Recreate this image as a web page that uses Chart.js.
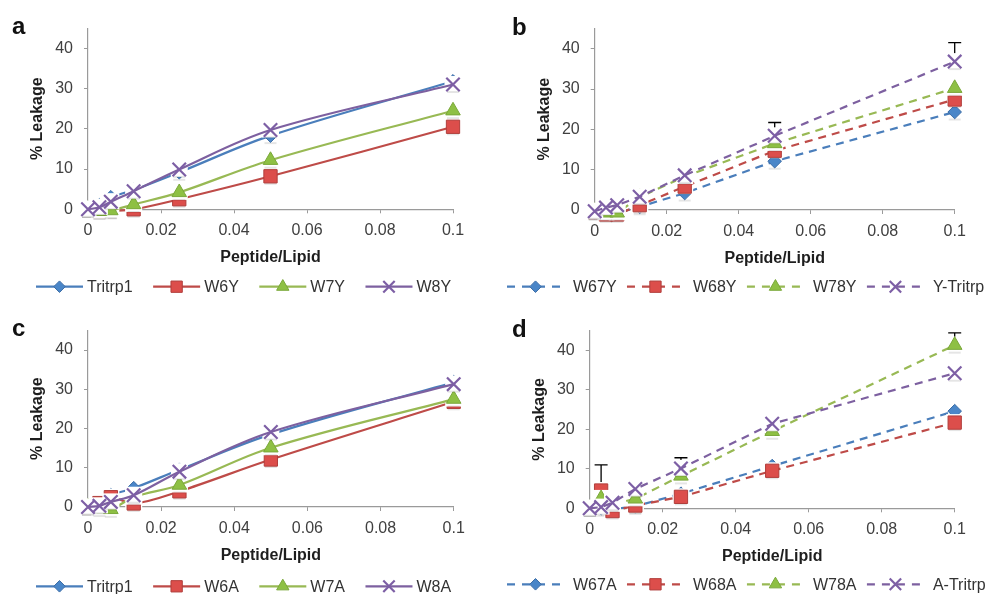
<!DOCTYPE html>
<html><head><meta charset="utf-8">
<script src="https://cdn.jsdelivr.net/npm/chart.js@4.4.1/dist/chart.umd.min.js"></script>
<style>
html,body{margin:0;padding:0;background:#fff;width:988px;height:595px;overflow:hidden}
.p{position:absolute;width:494px;height:297px}
canvas{display:block}
</style></head><body>
<div class="p" style="left:0;top:0"><canvas id="ca" width="494" height="297"></canvas></div>
<div class="p" style="left:494px;top:0"><canvas id="cb" width="494" height="297"></canvas></div>
<div class="p" style="left:0;top:297px"><canvas id="cc" width="494" height="297"></canvas></div>
<div class="p" style="left:494px;top:297px"><canvas id="cd" width="494" height="297"></canvas></div>
<script>
// ---------- DATA ----------
const xValues = [0, 0.003125, 0.00625, 0.0125, 0.025, 0.05, 0.1];
const xTicks = [0, 0.02, 0.04, 0.06, 0.08, 0.1];
const xTickLabels = ['0', '0.02', '0.04', '0.06', '0.08', '0.1'];
const yTicks = [0, 10, 20, 30, 40];
const yTickLabels = ['0', '10', '20', '30', '40'];

// panel a
const namesA = ['Tritrp1', 'W6Y', 'W7Y', 'W8Y'];
const tritrp1A = [0, 1.0, 3.0, 4.8, 9.2, 18.3, 31.8];
const w6y = [0, -0.5, -0.4, 0, 2.5, 8.2, 20.5];
const w7y = [0, -0.5, -0.3, 1.2, 4.2, 12.2, 24.5];
const w8y = [0, 0.5, 1.9, 4.5, 9.9, 19.7, 31.0];

// panel b
const namesB = ['W67Y', 'W68Y', 'W78Y', 'Y-Tritrp'];
const w67y = [-0.5, -0.8, -0.8, 0.8, 4.2, 12.1, 24.3];
const w68y = [-0.5, -1.1, -1.1, 1.2, 5.8, 14.7, 27.4];
const w78y = [-0.3, -0.7, -0.7, 3.2, 8.3, 16.5, 30.2];
const yTritrp = [-0.3, 0.6, 1.2, 3.3, 8.6, 18.4, 36.8];
const yTritrpErr = [0, 0, 0, 0, 0, 3.3, 4.7];

// panel c
const namesC = ['Tritrp1', 'W6A', 'W7A', 'W8A'];
const tritrp1C = [0, 1.0, 3.0, 4.8, 9.5, 18.5, 31.8];
const w6a = [0, 1.0, 2.5, 0.9, 4.0, 12.1, 26.8];
const w7a = [0, -0.4, -0.6, 2.5, 5.6, 15.1, 27.5];
const w8a = [0, 0.3, 1.3, 3.0, 9.0, 19.1, 31.3];

// panel d
const namesD = ['W67A', 'W68A', 'W78A', 'A-Tritrp'];
const w67a = [0, 0, -0.2, 0.5, 3.7, 10.7, 24.6];
const w68a = [0, 4.5, -0.7, 0.7, 2.9, 9.5, 21.7];
const w78a = [0, 2.5, 1.0, 2.4, 8.2, 19.5, 41.3];
const aTritrp = [0, 0.3, 1.4, 4.9, 10.1, 21.4, 34.2];
const w68aErr = [0, 6.5, 0, 0, 0, 0, 0];
const w78aErr = [0, 0, 0, 0, 0, 0, 3.1];
const aTritrpErr = [0, 0, 0, 0, 2.7, 0, 0];

// ---------- STYLES ----------
const FONT = "'Liberation Sans', Arial, sans-serif";
const seriesStyle = [
  {line: '#4A7EBB', fill: '#4A86C8', stroke: '#3C6DA6', shape: 'rectRot', r: 6.8, bw: 1},
  {line: '#BE4B48', fill: '#DC4E4B', stroke: '#B03E3B', shape: 'rect', r: 9.4, bw: 1},
  {line: '#98B954', fill: '#8EC044', stroke: '#7AA83A', shape: 'triangle', r: 8.4, bw: 1},
  {line: '#7D60A0', fill: '#7D5FA5', stroke: '#7D5FA5', shape: 'crossRot', r: 9.5, bw: 2.2}
];

function drawMarker(ctx, st, x, y, scale) {
  const r = st.r * scale;
  ctx.save();
  ctx.setLineDash([]);
  ctx.beginPath();
  if (st.shape === 'rect') { const s = r * Math.SQRT1_2; ctx.rect(x - s, y - s, 2 * s, 2 * s); }
  else if (st.shape === 'rectRot') { ctx.moveTo(x - r, y); ctx.lineTo(x, y - r); ctx.lineTo(x + r, y); ctx.lineTo(x, y + r); ctx.closePath(); }
  else if (st.shape === 'triangle') { ctx.moveTo(x, y - r); ctx.lineTo(x + r * 0.866, y + r * 0.5); ctx.lineTo(x - r * 0.866, y + r * 0.5); ctx.closePath(); }
  else { const s = r * Math.SQRT1_2; ctx.moveTo(x - s, y - s); ctx.lineTo(x + s, y + s); ctx.moveTo(x + s, y - s); ctx.lineTo(x - s, y + s); }
  if (st.shape !== 'crossRot') { ctx.fillStyle = st.fill; ctx.fill(); }
  ctx.strokeStyle = st.stroke; ctx.lineWidth = st.bw; ctx.stroke();
  ctx.restore();
}

// white box (with faint shadow) behind each marker + plus error bars
const markerBgPlugin = {
  id: 'markerBg',
  beforeDatasetDraw(chart, args) {
    const ctx = chart.ctx;
    const ds = chart.data.datasets[args.index];
    const yS = chart.scales.y;
    ctx.save();
    const err = ds.errPlus;
    if (err) {
      ctx.strokeStyle = '#000'; ctx.lineWidth = 1.3; ctx.setLineDash([]);
      args.meta.data.forEach((pt, j) => {
        if (err[j] > 0) {
          const yTop = yS.getPixelForValue(ds.data[j].y + err[j]);
          ctx.beginPath();
          ctx.moveTo(pt.x, pt.y); ctx.lineTo(pt.x, yTop);
          ctx.moveTo(pt.x - 6.5, yTop); ctx.lineTo(pt.x + 6.5, yTop);
          ctx.stroke();
        }
      });
    }
    ctx.fillStyle = '#fff';
    args.meta.data.forEach(pt => { ctx.fillRect(pt.x - 8.5, pt.y - 8.5, 17, 16); });
    ctx.fillStyle = 'rgba(0,0,0,0.10)';
    args.meta.data.forEach(pt => { ctx.fillRect(pt.x - 6, pt.y + 6.5, 12, 2); });
    ctx.restore();
  }
};

// legend (line + marker + text) and panel letter
const decorPlugin = {
  id: 'decor',
  afterDraw(chart) {
    const o = chart.options.plugins.decor;
    const ctx = chart.ctx;
    ctx.save();
    ctx.font = 'bold 24px ' + FONT;
    ctx.fillStyle = '#111';
    ctx.textBaseline = 'alphabetic';
    ctx.fillText(o.letter, o.letterX, o.letterY);
    ctx.font = '16px ' + FONT;
    ctx.textBaseline = 'middle';
    let x = o.lx;
    chart.data.datasets.forEach((ds, i) => {
      const st = seriesStyle[i];
      ctx.strokeStyle = st.line; ctx.lineWidth = 2.2;
      ctx.setLineDash(o.dashed ? [8, 7] : []);
      ctx.beginPath(); ctx.moveTo(x, o.ly); ctx.lineTo(x + o.len, o.ly); ctx.stroke();
      drawMarker(ctx, st, x + o.len / 2, o.ly, 0.85);
      ctx.fillStyle = '#333';
      const tx = x + o.len + o.gap;
      ctx.fillText(ds.label, tx, o.ly + 1);
      x = tx + ctx.measureText(ds.label).width + o.space;
    });
    ctx.restore();
  }
};

function makePanel(p) {
  const top = p.axisY - 45 * (p.axisY - p.y40) / 40;
  const datasets = p.values.map((vals, i) => {
    const st = seriesStyle[i];
    return {
      label: p.names[i],
      data: xValues.map((x, k) => ({x: x, y: vals[k]})),
      errPlus: p.errors[i],
      borderColor: st.line,
      backgroundColor: st.fill,
      borderWidth: 2.2,
      borderDash: p.dashed ? [8, 6] : [],
      tension: p.smooth ? 0.35 : 0,
      pointStyle: st.shape,
      pointRadius: st.r,
      pointBackgroundColor: st.fill,
      pointBorderColor: st.stroke,
      pointBorderWidth: st.bw,
      clip: false,
      order: 3 - i
    };
  });
  const axisColor = '#9a9a9a';
  new Chart(document.getElementById(p.id), {
    type: 'line',
    data: {datasets: datasets},
    plugins: [markerBgPlugin, decorPlugin],
    options: {
      responsive: false, animation: false,
      layout: {padding: {left: p.left - 60, right: 494 - p.right, top: top, bottom: 297 - p.axisY - 58}},
      plugins: {
        legend: {display: false}, tooltip: {enabled: false},
        decor: {letter: p.letter, letterX: p.letterX, letterY: p.letterY, lx: p.lx, ly: p.ly, len: p.len, gap: p.gap, space: p.space, dashed: p.dashed}
      },
      scales: {
        x: {
          type: 'linear', min: 0, max: 0.1,
          afterBuildTicks: s => { s.ticks = xTicks.map(v => ({value: v})); },
          afterFit: s => { s.height = 58; },
          ticks: {callback: (v, i) => xTickLabels[i], font: {size: 16, family: FONT}, color: '#404040', padding: 8, autoSkip: false, maxRotation: 0},
          grid: {drawOnChartArea: false, tickLength: 4, color: axisColor},
          border: {color: axisColor, width: 1.2},
          title: {display: true, text: 'Peptide/Lipid', font: {size: 16, weight: 'bold', family: FONT}, color: '#1e1e1e', padding: 0}
        },
        y: {
          min: 0, max: 45,
          afterBuildTicks: s => { s.ticks = yTicks.map(v => ({value: v})); },
          afterFit: s => { s.width = 60; },
          ticks: {callback: (v, i) => yTickLabels[i], font: {size: 16, family: FONT}, color: '#404040', padding: 11},
          grid: {drawOnChartArea: false, tickLength: 4, color: axisColor},
          border: {color: axisColor, width: 1.2},
          title: {display: true, text: '% Leakage', font: {size: 16, weight: 'bold', family: FONT}, color: '#1e1e1e', padding: 0}
        }
      }
    }
  });
}

makePanel({id: 'ca', letter: 'a', letterX: 12, letterY: 34, left: 88, right: 453, axisY: 209.3, y40: 48.3,
  dashed: false, smooth: true, names: namesA, values: [tritrp1A, w6y, w7y, w8y], errors: [null, null, null, null],
  lx: 36, ly: 286.7, len: 47, gap: 4, space: 20.5});
makePanel({id: 'cb', letter: 'b', letterX: 18, letterY: 35, left: 100.7, right: 460.7, axisY: 210, y40: 48.7,
  dashed: true, smooth: false, names: namesB, values: [w67y, w68y, w78y, yTritrp], errors: [null, null, null, yTritrpErr],
  lx: 13, ly: 286.7, len: 57, gap: 9, space: 10.4});
makePanel({id: 'cc', letter: 'c', letterX: 12, letterY: 39.3, left: 88, right: 453.7, axisY: 210, y40: 53,
  dashed: false, smooth: true, names: namesC, values: [tritrp1C, w6a, w7a, w8a], errors: [null, null, null, null],
  lx: 36, ly: 289.3, len: 47, gap: 4, space: 20.5});
makePanel({id: 'cd', letter: 'd', letterX: 18, letterY: 40, left: 95.7, right: 460.7, axisY: 211.3, y40: 53.3,
  dashed: true, smooth: false, names: namesD, values: [w67a, w68a, w78a, aTritrp], errors: [null, w68aErr, w78aErr, aTritrpErr],
  lx: 13, ly: 287.3, len: 57, gap: 9, space: 10.4});
</script>
</body></html>
